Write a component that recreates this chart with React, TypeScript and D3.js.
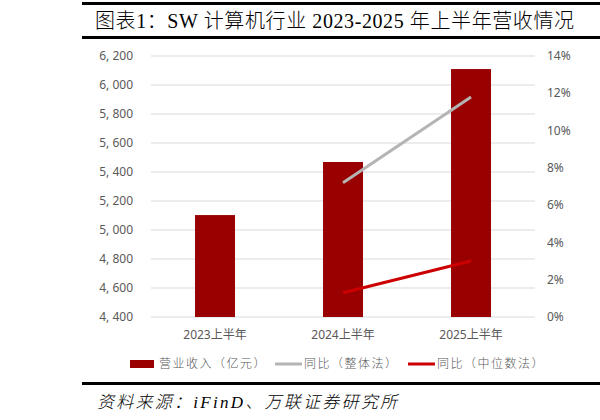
import React, { useEffect, useRef } from "react";
import * as d3 from "d3";

const categories = ["2023上半年", "2024上半年", "2025上半年"];
const revenue = [5103, 5469, 6110];
const yoyWhole = [null, 7.2, 11.8];
const yoyMedian = [null, 1.3, 3.0];
const leftTicks = [4400, 4600, 4800, 5000, 5200, 5400, 5600, 5800, 6000, 6200];
const rightTicks = [0, 2, 4, 6, 8, 10, 12, 14];
const legendLabels = ["营业收入（亿元）", "同比（整体法）", "同比（中位数法）"];

const W = 600, H = 420;
const margin = { top: 56, right: 65, bottom: 103, left: 151 };

export default function App() {
  const ref = useRef<SVGSVGElement>(null);

  useEffect(() => {
    const svg = d3.select(ref.current);
    svg.selectAll("*").remove();

    const w = W - margin.left - margin.right;
    const h = H - margin.top - margin.bottom;

    // title bars
    svg.append("rect").attr("x", 82).attr("y", 2).attr("width", W - 82).attr("height", 3).attr("fill", "#000");
    svg.append("rect").attr("x", 82).attr("y", 36).attr("width", W - 82).attr("height", 3).attr("fill", "#000");
    svg.append("text").attr("x", 95).attr("y", 28)
      .attr("font-family", "'Liberation Serif', 'Noto Sans CJK SC', serif")
      .attr("font-size", 20).attr("font-weight", 300).attr("fill", "#000")
      .attr("textLength", 479).attr("lengthAdjust", "spacing")
      .text("图表1：SW 计算机行业 2023-2025 年上半年营收情况");

    const g = svg.append("g").attr("transform", `translate(${margin.left},${margin.top})`);

    const x = d3.scaleBand().domain(categories).range([0, w]).paddingInner(0.6875).paddingOuter(0.34375);
    const yL = d3.scaleLinear().domain([4400, 6200]).range([h, 0]);
    const yR = d3.scaleLinear().domain([0, 14]).range([h, 0]);

    // grid
    g.selectAll(".grid").data(leftTicks).join("line")
      .attr("x1", 0).attr("x2", w)
      .attr("y1", d => yL(d)).attr("y2", d => yL(d))
      .attr("stroke", "#d9d9d9").attr("stroke-width", 1);

    const tickFont = "'Noto Sans', 'Noto Sans CJK SC', sans-serif";

    const fmt = d3.format(",");
    g.append("g").selectAll("text").data(leftTicks).join("text")
      .attr("x", -18).attr("y", d => yL(d)).attr("dy", "0.35em")
      .attr("text-anchor", "end").attr("font-size", 12).attr("fill", "#595959")
      .attr("font-family", tickFont)
      .text(d => fmt(d).replace(",", ", "));

    g.append("g").selectAll("text").data(rightTicks).join("text")
      .attr("x", w + 12).attr("y", d => yR(d)).attr("dy", "0.35em")
      .attr("text-anchor", "start").attr("font-size", 12).attr("fill", "#595959")
      .attr("font-family", tickFont)
      .text(d => d + "%");

    g.append("g").selectAll("text").data(categories).join("text")
      .attr("x", d => x(d)! + x.bandwidth() / 2).attr("y", h + 22)
      .attr("text-anchor", "middle").attr("font-size", 12).attr("fill", "#595959")
      .attr("font-family", tickFont)
      .text(d => d);

    // bars
    g.selectAll(".bar").data(revenue).join("rect")
      .attr("x", (d, i) => x(categories[i])!)
      .attr("y", d => yL(d))
      .attr("width", x.bandwidth())
      .attr("height", d => h - yL(d))
      .attr("fill", "#990000");

    const line = d3.line<number | null>()
      .defined(d => d != null)
      .x((d, i) => x(categories[i])! + x.bandwidth() / 2)
      .y(d => yR(d as number));

    g.append("path").attr("d", line(yoyWhole)).attr("fill", "none")
      .attr("stroke", "#b4b4b4").attr("stroke-width", 3);
    g.append("path").attr("d", line(yoyMedian)).attr("fill", "none")
      .attr("stroke", "#cc0000").attr("stroke-width", 3);

    // legend
    const legX = [130, 275, 408];
    const lg = svg.append("g").attr("transform", "translate(0,364)");
    lg.append("rect").attr("x", legX[0]).attr("y", -4).attr("width", 24).attr("height", 8).attr("fill", "#990000");
    lg.append("line").attr("x1", legX[1]).attr("x2", legX[1] + 27).attr("y1", 0).attr("y2", 0)
      .attr("stroke", "#b4b4b4").attr("stroke-width", 3);
    lg.append("line").attr("x1", legX[2]).attr("x2", legX[2] + 27).attr("y1", 0).attr("y2", 0)
      .attr("stroke", "#cc0000").attr("stroke-width", 3);
    lg.selectAll(".lt").data(legendLabels).join("text")
      .attr("x", (d, i) => legX[i] + 29).attr("y", 0).attr("dy", "0.35em")
      .attr("font-size", 12).attr("fill", "#595959").attr("font-weight", 300)
      .attr("font-family", "'Noto Sans CJK SC', sans-serif")
      .attr("letter-spacing", 1.5)
      .text(d => d);

    // footer
    svg.append("rect").attr("x", 82).attr("y", 382).attr("width", W - 82).attr("height", 3).attr("fill", "#000");
    svg.append("text").attr("x", 97).attr("y", 408)
      .attr("font-family", "'Liberation Serif', 'Noto Sans CJK SC', serif")
      .attr("font-style", "italic").attr("font-size", 17).attr("font-weight", 300).attr("fill", "#000")
      .attr("textLength", 300).attr("lengthAdjust", "spacing")
      .text("资料来源：iFinD、万联证券研究所");
  }, []);

  return (
    <svg ref={ref} width={W} height={H} style={{ position: "absolute", left: 0, top: 0 }} />
  );
}
